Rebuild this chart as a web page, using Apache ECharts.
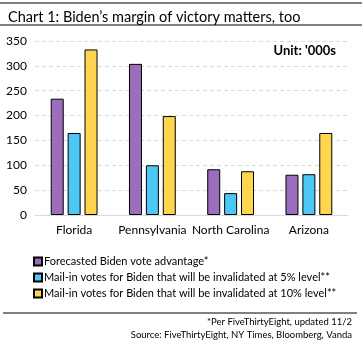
<!DOCTYPE html>
<html><head><meta charset="utf-8">
<script src="https://cdn.jsdelivr.net/npm/echarts@6/dist/echarts.min.js"></script>
<style>html,body{margin:0;padding:0;background:#fff}#c{width:362px;height:346px}</style>
</head><body><div id="c"></div>
<script>
const categories = ['Florida', 'Pennsylvania', 'North Carolina', 'Arizona'];
const seriesNames = [
  'Forecasted Biden vote advantage*',
  'Mail-in votes for Biden that will be invalidated at 5% level**',
  'Mail-in votes for Biden that will be invalidated at 10% level**'
];
const forecast = [234, 304, 92, 81];
const invalid5 = [165, 100, 44, 82];
const invalid10 = [333, 199, 88, 165];
const yTicks = [0, 50, 100, 150, 200, 250, 300, 350];
const colors = ['#9b6dbb', '#4bc8f4', '#ffd54f'];
const FONT = 'Lato';

const chart = echarts.init(document.getElementById('c'), null, {renderer: 'canvas'});
const mk = (name, data, i) => ({
  name, type: 'bar', data, barWidth: 13, barGap: '30%',
  itemStyle: {color: colors[i], borderColor: '#000', borderWidth: 1}
});
chart.setOption({
  animation: false,
  textStyle: {fontFamily: FONT},
  title: {
    text: 'Chart 1: Biden\u2019s margin of victory matters, too',
    left: 3, top: 5,
    textStyle: {fontFamily: FONT, fontSize: 14.5, fontWeight: 'normal', color: '#000'}
  },
  grid: {left: 35, right: 14, top: 41, bottom: 131, containLabel: false},
  xAxis: {
    type: 'category', data: categories,
    axisLine: {lineStyle: {color: '#d9d9d9'}},
    axisTick: {show: false},
    axisLabel: {color: '#000', fontSize: 12, fontFamily: FONT, margin: 9, interval: 0}
  },
  yAxis: {
    type: 'value', min: yTicks[0], max: yTicks[yTicks.length - 1], interval: 50,
    axisLine: {show: false}, axisTick: {show: false},
    axisLabel: {color: '#000', fontSize: 12, fontFamily: FONT, margin: 8},
    splitLine: {lineStyle: {color: '#d9d9d9', type: [4, 3]}}
  },
  legend: {
    orient: 'vertical', left: 28, top: 251, itemGap: 5,
    itemWidth: 8, itemHeight: 8, icon: 'rect',
    textStyle: {fontSize: 11, fontFamily: FONT, color: '#000', padding: [0, 0, 0, -3]},
    data: seriesNames
  },
  series: [mk(seriesNames[0], forecast, 0), mk(seriesNames[1], invalid5, 1), mk(seriesNames[2], invalid10, 2)],
  graphic: [
    {type: 'line', shape: {x1: 0, y1: 3, x2: 362, y2: 3}, style: {stroke: '#000', lineWidth: 1}},
    {type: 'line', shape: {x1: 0, y1: 25, x2: 362, y2: 25}, style: {stroke: '#000', lineWidth: 1}},
    {type: 'line', shape: {x1: 3, y1: 313, x2: 357, y2: 313}, style: {stroke: '#000', lineWidth: 1}},
    {type: 'text', right: 26, top: 44, style: {text: "Unit: '000s", font: 'bold 13px ' + FONT, fill: '#000'}},
    {type: 'text', right: 10, top: 317, style: {text: '*Per FiveThirtyEight, updated 11/2', font: '9.5px ' + FONT, fill: '#000', textAlign: 'right'}},
    {type: 'text', right: 10, top: 330, style: {text: 'Source: FiveThirtyEight, NY Times, Bloomberg, Vanda', font: '9.5px ' + FONT, fill: '#000', textAlign: 'right'}}
  ]
});
</script></body></html>
